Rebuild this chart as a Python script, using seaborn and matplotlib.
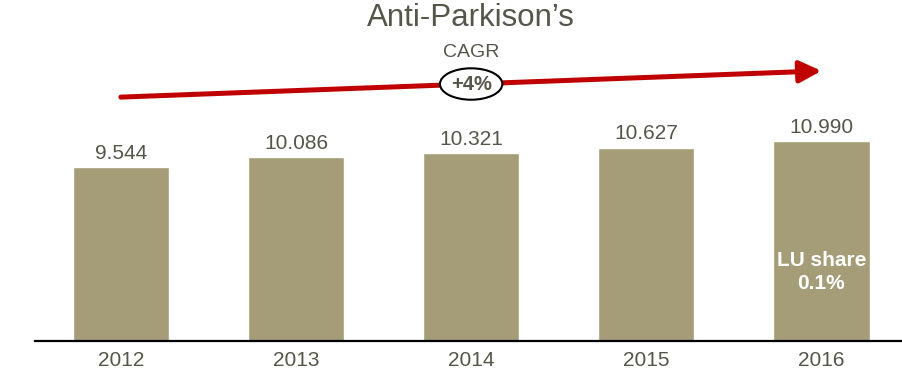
import matplotlib
matplotlib.use("Agg")
import matplotlib.pyplot as plt
import seaborn as sns
import pandas as pd

### Dados
anos = ["2012", "2013", "2014", "2015", "2016"]
vendas = [9.544, 10.086, 10.321, 10.627, 10.990]
titulo = "Anti-Parkison\u2019s"
cagr = "+4%"
lu_share = "LU share\n0.1%"

### Estilo
sns.set_style("white")
plt.rcParams["font.family"] = ["Liberation Sans", "DejaVu Sans"]
cor_barra = "#A59D78"
cor_texto = "#55554A"
cor_seta = "#C00000"

df = pd.DataFrame({"Ano": anos, "Vendas": vendas})

fig = plt.figure(figsize = (9.02, 3.78), dpi = 100)
ax = fig.add_axes([35 / 902, 37 / 378, 1 - 35 / 902, 341 / 378])
sns.barplot(data = df, x = "Ano", y = "Vendas", color = cor_barra, width = 0.55,
            saturation = 1, ax = ax)
ax.set_xlim(-0.49, 4.46)
ax.set_ylim(0, 341 / 18.2)
ax.set_xlabel("")
ax.set_ylabel("")
ax.set_yticks([])
sns.despine(ax = ax, left = True, top = True, right = True)
ax.spines["bottom"].set_color("black")
ax.spines["bottom"].set_linewidth(1.6)
ax.tick_params(axis = "x", length = 0, pad = 7, labelsize = 15, labelcolor = cor_texto)

### Rótulos das barras
rotulos = [f"{v:.3f}" for v in vendas]
ax.bar_label(ax.containers[0], labels = rotulos, padding = 3, fontsize = 15, color = cor_texto)

### LU share
ax.text(4, vendas[4] * 0.345, lu_share, ha = "center", va = "center", color = "white",
        fontsize = 15, fontweight = "bold", linespacing = 1.3)

### Seta CAGR
ax.annotate("", xy = (4.0, 14.84), xytext = (0, 13.4),
            arrowprops = dict(arrowstyle = "-|>,head_length=0.6,head_width=0.3",
                              lw = 3.6, color = cor_seta, mutation_scale = 22,
                              shrinkA = 0, shrinkB = 0))
ax.text(2, 14.12, cagr, ha = "center", va = "center", fontsize = 14.5, fontweight = "bold",
        color = cor_texto, zorder = 5,
        bbox = dict(boxstyle = "ellipse,pad=0.08", fc = "white", ec = "black", lw = 1.5))
ax.text(2, 0.845, "CAGR", transform = ax.get_xaxis_transform(), ha = "center", va = "center",
        fontsize = 14, color = cor_texto)
ax.text(2, 0.947, titulo, transform = ax.get_xaxis_transform(), ha = "center", va = "center",
        fontsize = 22.5, color = cor_texto)

plt.savefig("out.png", dpi = 100)
